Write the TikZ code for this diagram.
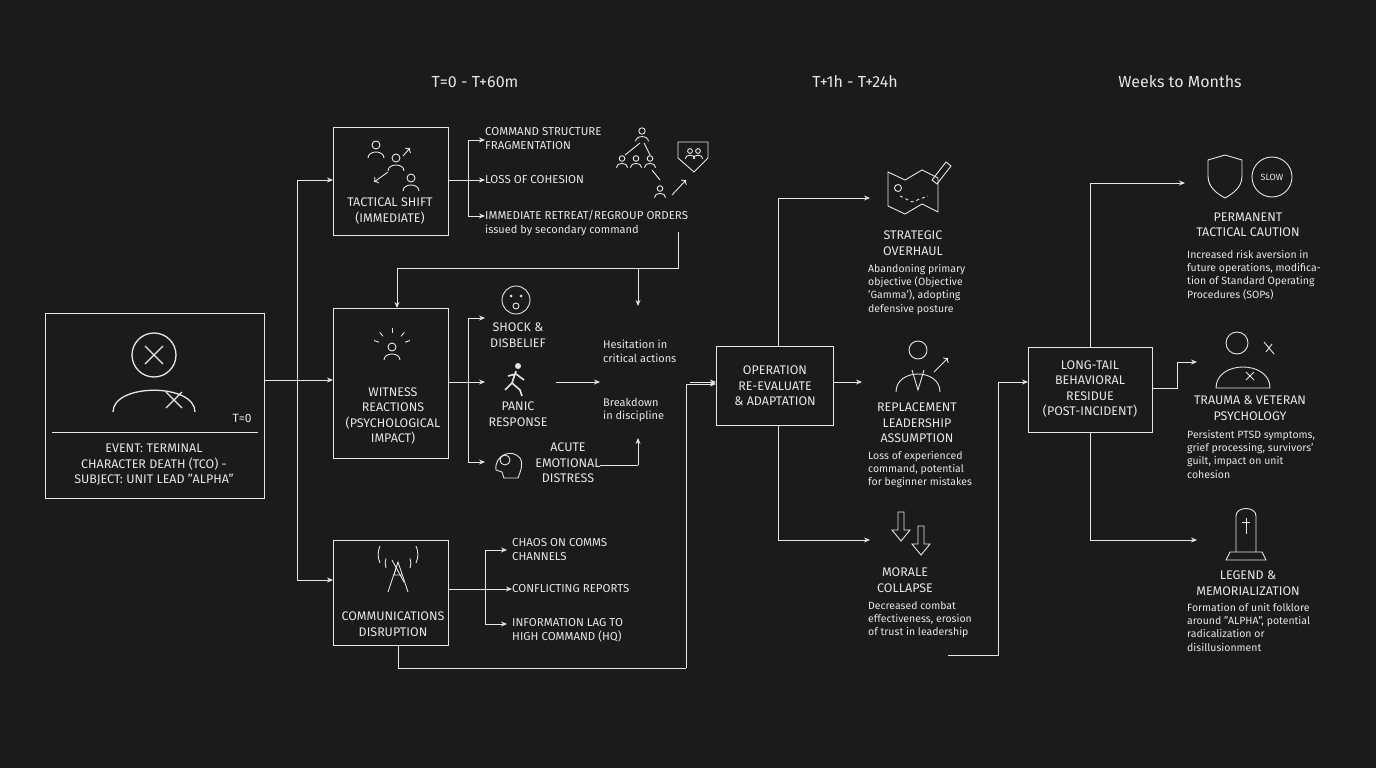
\documentclass[tikz,border=0pt]{standalone}
\usepackage{fontspec}
\setmainfont{Fira Sans}
\usetikzlibrary{arrows.meta,calc}
\definecolor{bg}{HTML}{1B1B1B}
\definecolor{fg}{HTML}{E6E6E6}
\begin{document}
\begin{tikzpicture}[x=1pt,y=-1pt,
  ln/.style={draw=fg,line width=0.9pt},
  ar/.style={ln,-{Stealth[length=6pt,width=5pt]}},
  box/.style={draw=fg,line width=1pt,fill=bg},
  ttl/.style={text=fg,font=\fontsize{12.5}{15.5}\selectfont,align=center,inner sep=0},
  itm/.style={text=fg,font=\fontsize{11.5}{14}\selectfont,align=left,anchor=west,inner sep=0},
  dsc/.style={text=fg,font=\fontsize{10.5}{13.3}\selectfont,align=left,anchor=north west,inner sep=0},
  hdr/.style={text=fg,font=\fontsize{16}{18}\selectfont},
  ic/.style={draw=fg,line width=0.9pt},
  person/.pic={\draw[ic] (0,-5) circle (4); \draw[ic] (-8,8) .. controls (-8,0) and (8,0) .. (8,8);}
]
\fill[bg] (0,0) rectangle (1376,768);
\useasboundingbox (0,0) rectangle (1376,768);

% headers
\node[hdr] (h1) at (475,82) {T=0 - T+60m};
\node[hdr] (h2) at (855,82) {T+1h - T+24h};
\node[hdr] (h3) at (1180,82) {Weeks to Months};

% event box
\node[box,minimum width=219,minimum height=185,anchor=north west] (ev) at (45,313) {};
\draw[ln] (52,432) -- (258,432);
\node[text=fg,font=\fontsize{12}{14}\selectfont] (t0) at (242,418) {T=0};
\node[ttl] (evt) at (154,465) {EVENT: TERMINAL\\CHARACTER DEATH (TCO) -\\SUBJECT: UNIT LEAD "ALPHA"};
\draw[ic,line width=1.3pt] (154,355) circle (22);
\draw[ic,line width=1.3pt] (113,412) .. controls (113,383) and (195,383) .. (195,412);
\draw[ic,line width=1.3pt] (145,346) -- (163,364) (163,346) -- (145,364);
\draw[ic,line width=1.3pt] (166,392) -- (182,408) (182,392) -- (166,408);

% phase 1 boxes
\node[box,minimum width=115,minimum height=108,anchor=north west] (tac) at (333,127) {};
\node[ttl] (tact) at (390,211) {TACTICAL SHIFT\\(IMMEDIATE)};
\pic at (376,150) {person}; \pic at (396,163) {person}; \pic at (411,183) {person};
\draw[ic,->] (388,172) -- (374,182); \draw[ic,->] (403,156) -- (410,148);

\node[box,minimum width=115,minimum height=150,anchor=north west] (wit) at (333,308) {};
\node[ttl] (witt) at (393,416) {WITNESS\\REACTIONS\\(PSYCHOLOGICAL\\IMPACT)};
\pic at (392,352) {person};
\foreach \a in {200,230,270,310,340} \draw[ic] ($(392,347)+(\a:14)$) -- ($(392,347)+(\a:19)$);

\node[box,minimum width=115,minimum height=105,anchor=north west] (com) at (333,540) {};
\node[ttl] (comt) at (393,624) {COMMUNICATIONS\\DISRUPTION};
\draw[ic] (388,592) -- (398,562) -- (408,592) (398,562) -- (394,575) -- (402,575);
\draw[ic] (386,568) arc (160:200:14) (410,568) arc (20:-20:14);
\draw[ic] (380,563) arc (155:205:20) (416,563) arc (25:-25:20);
\draw[ic] (392,560) -- (404,582);

% branching from event
\coordinate (b0) at (297,380);
\draw[ln] (ev.east |- b0) -- (b0);
\draw[ln] (297,180) -- (297,580);
\draw[ar] (297,180) -- (tac.west |- 0,180);
\draw[ar] (297,380) -- (wit.west |- 0,380);
\draw[ar] (297,580) -- (com.west |- 0,580);

% tactical outputs
\draw[ln] (tac.east |- 0,180) -- (468,180);
\draw[ln] (468,140) -- (468,216);
\node[itm] (c1) at (485,139) {COMMAND STRUCTURE\\FRAGMENTATION};
\node[itm] (c2) at (485,180) {LOSS OF COHESION};
\node[itm,font=\fontsize{11.5}{14}\selectfont] (c3) at (485,223) {IMMEDIATE RETREAT/REGROUP ORDERS\\{\fontsize{11}{14}\selectfont issued by secondary command}};
\draw[ar] (468,140) -- (c1.west |- 0,140);
\draw[ar] (468,180) -- (c2.west);
\draw[ar] (468,216) -- (c3.west |- 0,216);
% org icon
\pic[scale=0.8] at (642,135) {person};
\pic[scale=0.7] at (622,162) {person}; \pic[scale=0.7] at (636,162) {person}; \pic[scale=0.7] at (650,162) {person};
\draw[ic] (640,143) -- (625,155) (644,143) -- (650,155);
\pic[scale=0.7] at (660,192) {person};
\draw[ic] (652,170) -- (660,180);
\draw[ic] (678,142) -- (708,142) -- (708,158) -- (694,172) -- (678,158) -- cycle;
\pic[scale=0.6] at (690,154) {person}; \pic[scale=0.6] at (698,154) {person};
\draw[ic,->] (672,195) -- (686,180);

% feedback loop to witness
\draw[ln] (678,232) -- (678,268) -- (397,268);
\draw[ar] (397,268) -- (wit.north -| 397,0);
\coordinate (hz) at (638,268);
\draw[ar] (hz) -- (638,306);
\node[text=fg,font=\fontsize{11}{13.5}\selectfont,align=left,anchor=north west,inner sep=0] (hes) at (603,340) {Hesitation in\\critical actions};
\node[text=fg,font=\fontsize{11}{13.5}\selectfont,align=left,anchor=north west,inner sep=0] (brk) at (603,398) {Breakdown\\in discipline};

% witness outputs
\draw[ln] (wit.east |- 0,382) -- (468,382);
\draw[ln] (468,318) -- (468,462);
\draw[ar] (468,318) -- (485,318);
\draw[ar] (468,382) -- (485,382);
\draw[ar] (468,462) -- (485,462);
\draw[ic] (516,300) circle (14); \fill[fg] (511,296) circle (1.5) (521,296) circle (1.5); \draw[ic] (516,306) circle (3);
\node[ttl] (shk) at (518,335) {SHOCK \&\\DISBELIEF};
\fill[fg] (518,366) circle (3);
\draw[ic,line width=1.6pt] (516,371) -- (512,383) -- (505,390) (512,383) -- (520,390) -- (522,396) (516,374) -- (508,376) (516,374) -- (524,380);
\node[ttl] (pan) at (518,414) {PANIC\\RESPONSE};
\draw[ic] (496,470) .. controls (494,455) and (512,448) .. (520,458) .. controls (524,465) and (520,472) .. (518,478) -- (504,478) -- (502,472) -- cycle;
\draw[ic] (505,460) circle (5);
\node[ttl] (acu) at (568,463) {ACUTE\\EMOTIONAL\\DISTRESS};
\draw[ar] (556,382) -- (600,382);
\draw[ln] (600,465) -- (638,465);
\draw[ar] (638,465) -- (638,438);

% comms outputs
\draw[ln] (com.east |- 0,589) -- (485,589);
\draw[ln] (485,550) -- (485,624);
\node[itm] (m1) at (512,550) {CHAOS ON COMMS\\CHANNELS};
\node[itm] (m2) at (512,589) {CONFLICTING REPORTS};
\node[itm] (m3) at (512,630) {INFORMATION LAG TO\\HIGH COMMAND (HQ)};
\draw[ar] (485,550) -- (507,550);
\draw[ar] (485,589) -- (m2.west);
\draw[ar] (485,624) -- (507,624);

% operation box
\node[box,minimum width=117,minimum height=79,anchor=north west] (op) at (716,346) {};
\node[ttl] (opt) at (775,386) {OPERATION\\RE-EVALUATE\\\& ADAPTATION};
\draw[ar] (690,382) -- (op.west |- 0,382);
\draw[ln] (398,645) -- (398,668) -- (686,668);
\draw[ar] (686,668) -- (686,384) -- (op.west |- 0,384);

% op outputs
\draw[ar] (op.east |- 0,382) -- (862,382);
\draw[ln] (778,198) -- (778,346) (778,425) -- (778,540);
\draw[ar] (778,198) -- (870,198);
\draw[ar] (778,540) -- (870,540);

\draw[ic] (888,172) -- (905,180) -- (922,170) -- (938,178) -- (938,212) -- (922,204) -- (905,214) -- (888,206) -- cycle;
\draw[ic] (898,188) circle (3.5);
\draw[ic,dashed] (900,196) -- (912,202) -- (928,196);
\draw[ic] (932,180) -- (946,162) -- (951,166) -- (937,184) -- cycle;
\node[ttl] (st) at (913,243) {STRATEGIC\\OVERHAUL};
\node[dsc] (std) at (868,264) {Abandoning primary\\objective (Objective\\'Gamma'), adopting\\defensive posture};

\draw[ic] (918,350) circle (9);
\draw[ic] (896,392) .. controls (896,368) and (940,368) .. (940,392);
\draw[ic] (912,370) -- (918,390) -- (924,370);
\draw[ic,->] (934,372) -- (948,358);
\node[ttl] (rp) at (917,423) {REPLACEMENT\\LEADERSHIP\\ASSUMPTION};
\node[dsc] (rpd) at (868,451) {Loss of experienced\\command, potential\\for beginner mistakes};

\draw[ic] (898,512) -- (904,512) -- (904,530) -- (910,530) -- (901,541) -- (892,530) -- (898,530) -- cycle;
\draw[ic] (918,526) -- (924,526) -- (924,544) -- (930,544) -- (921,555) -- (912,544) -- (918,544) -- cycle;
\node[ttl] (mo) at (905,580) {MORALE\\COLLAPSE};
\node[dsc] (mod) at (868,601) {Decreased combat\\effectiveness, erosion\\of trust in leadership};

% to long tail
\draw[ln] (948,655) -- (998,655) -- (998,382);
\node[box,minimum width=124,minimum height=85,anchor=north west] (lt) at (1028,347) {};
\node[ttl] (ltt) at (1090,389) {LONG-TAIL\\BEHAVIORAL\\RESIDUE\\(POST-INCIDENT)};
\draw[ar] (998,382) -- (lt.west |- 0,382);

\draw[ln] (1090,347) -- (1090,183) (1090,432) -- (1090,540);
\draw[ar] (1090,183) -- (1185,183);
\draw[ar] (1090,540) -- (1197,540);
\draw[ln] (lt.east |- 0,388) -- (1177,388) -- (1177,362);
\draw[ar] (1177,362) -- (1197,362);

\draw[ic] (1208,160) -- (1225,155) -- (1242,160) -- (1242,176) .. controls (1242,188) and (1232,194) .. (1225,198) .. controls (1218,194) and (1208,188) .. (1208,176) -- cycle;
\draw[ic] (1272,177) circle (20);
\node[text=fg,font=\fontsize{9}{10}\selectfont] (slow) at (1272,177) {SLOW};
\node[ttl] (pt) at (1248,225) {PERMANENT\\TACTICAL CAUTION};
\node[dsc] (ptd) at (1187,250) {Increased risk aversion in\\future operations, modifica-\\tion of Standard Operating\\Procedures (SOPs)};

\draw[ic] (1237,343) circle (11);
\draw[ic] (1216,388) .. controls (1216,360) and (1270,360) .. (1270,388) -- cycle;
\draw[ic] (1264,342) -- (1274,354) (1266,352) -- (1272,344);
\draw[ic] (1246,372) -- (1254,380) (1254,372) -- (1246,380);
\node[ttl] (tr) at (1250,408) {TRAUMA \& VETERAN\\PSYCHOLOGY};
\node[dsc] (trd) at (1187,430) {Persistent PTSD symptoms,\\grief processing, survivors'\\guilt, impact on unit\\cohesion};

\draw[ic] (1236,552) -- (1236,516) .. controls (1236,506) and (1256,506) .. (1256,516) -- (1256,552);
\draw[ic] (1230,552) -- (1262,552) -- (1266,560) -- (1226,560) -- cycle;
\draw[ic] (1246,518) -- (1246,534) (1242,522) -- (1250,522);
\node[ttl] (lg) at (1248,583) {LEGEND \&\\MEMORIALIZATION};
\node[dsc] (lgd) at (1187,603) {Formation of unit folklore\\around "ALPHA", potential\\radicalization or\\disillusionment};
\end{tikzpicture}
\end{document}
